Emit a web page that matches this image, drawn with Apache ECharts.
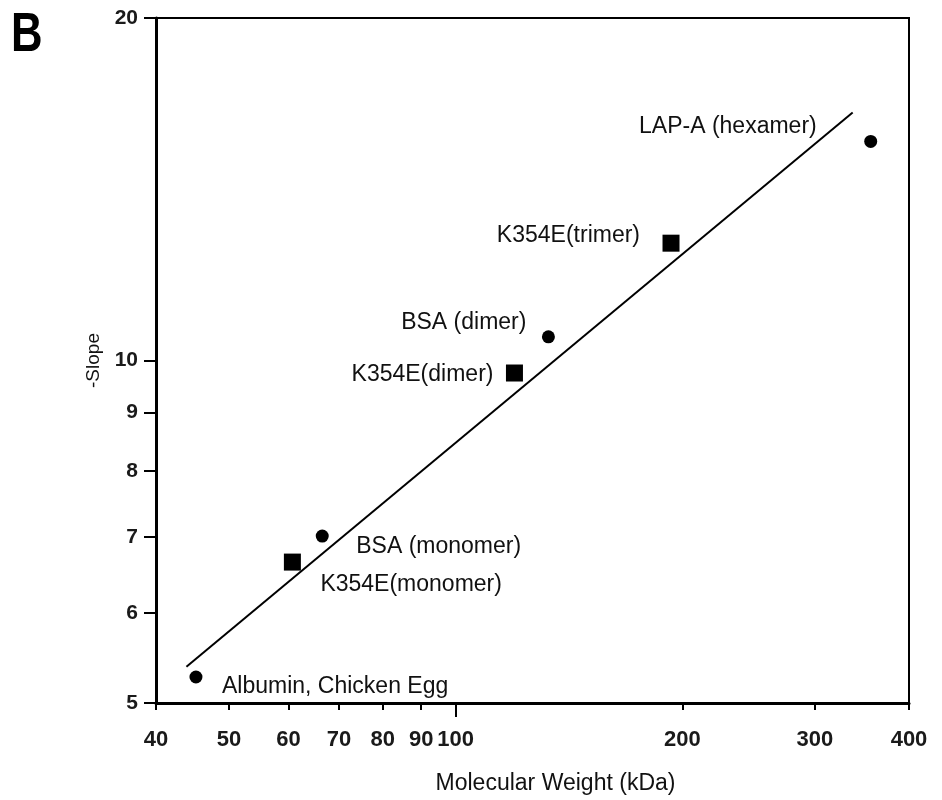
<!DOCTYPE html>
<html>
<head>
<meta charset="utf-8">
<script src="https://cdn.jsdelivr.net/npm/echarts@6/dist/echarts.min.js"></script>
<style>
  html, body { margin: 0; padding: 0; background: #fff; }
  #chart { width: 942px; height: 800px; }
</style>
</head>
<body>
<div id="chart"></div>
<script>
// molecular weight (kDa) vs -slope, log-log
var circleNames = ['Albumin, Chicken Egg', 'BSA (monomer)', 'BSA (dimer)', 'LAP-A (hexamer)']
var circleMW = [45.2, 66.5, 132.8, 355.8]
var circleSlope = [5.27, 7.01, 10.49, 15.58]

var squareNames = ['K354E(monomer)', 'K354E(dimer)', 'K354E(trimer)']
var squareMW = [60.7, 119.7, 193.2]
var squareSlope = [6.65, 9.75, 12.68]

// fitted line end points
var fitMW = [43.9, 336.7]
var fitSlope = [5.38, 16.52]

var xTicks = [40, 50, 60, 70, 80, 90, 100, 200, 300, 400]
var yTicks = [5, 6, 7, 8, 9, 10, 20]

// label placement per point (text anchor relative to marker centre)
var circleLabel = [
  { align: 'left', offset: [26, 10] },
  { align: 'left', offset: [34, 11] },
  { align: 'right', offset: [-22, -14] },
  { align: 'right', offset: [-54, -15] }
]
var squareLabel = [
  { align: 'left', offset: [28, 23] },
  { align: 'right', offset: [-21, 2] },
  { align: 'right', offset: [-31, -8] }
]

function buildPoints(names, xs, ys, labels) {
  var out = []
  for (var i = 0; i < names.length; i++) {
    out.push({
      name: names[i],
      value: [xs[i], ys[i]],
      label: {
        show: true,
        position: 'inside',
        align: labels[i].align,
        verticalAlign: 'middle',
        offset: labels[i].offset,
        formatter: '{b}',
        color: '#111',
        fontSize: 23,
        fontFamily: 'Liberation Sans, Arial, sans-serif'
      }
    })
  }
  return out
}

var fitData = []
for (var i = 0; i < fitMW.length; i++) fitData.push([fitMW[i], fitSlope[i]])

var tickFont = {
  color: '#1a1a1a',
  fontWeight: 'bold',
  fontFamily: 'Liberation Sans, Arial, sans-serif'
}

var chart = echarts.init(document.getElementById('chart'))
chart.setOption({
  animation: false,
  backgroundColor: '#fff',
  grid: {
    left: 156,
    right: 33,
    top: 18,
    bottom: 94,
    show: true,
    borderColor: '#000',
    borderWidth: 2,
    backgroundColor: 'transparent'
  },
  graphic: [{
    type: 'text',
    left: 11,
    top: 8,
    scaleX: 0.78,
    style: {
      text: 'B',
      fontSize: 56,
      fontWeight: 'bold',
      fontFamily: 'Liberation Sans, Arial, sans-serif',
      fill: '#000'
    }
  }],
  xAxis: [{
    type: 'log',
    logBase: 10,
    min: 40,
    max: 400,
    name: 'Molecular Weight (kDa)',
    nameLocation: 'middle',
    nameGap: 69,
    nameTextStyle: {
      color: '#111',
      fontSize: 23,
      padding: [0, 0, 0, 46],
      fontFamily: 'Liberation Sans, Arial, sans-serif'
    },
    axisLine: { show: true, lineStyle: { color: '#000', width: 3 } },
    axisTick: { show: true, length: 7, lineStyle: { color: '#000', width: 2 }, customValues: xTicks },
    axisLabel: Object.assign({ fontSize: 22, margin: 26, customValues: xTicks }, tickFont),
    minorTick: { show: false },
    splitLine: { show: false }
  }, {
    // longer tick at 100
    type: 'log',
    logBase: 10,
    min: 40,
    max: 400,
    position: 'bottom',
    offset: 0,
    axisLine: { show: false },
    axisTick: { show: true, length: 14, lineStyle: { color: '#000', width: 2 }, customValues: [100] },
    axisLabel: { show: false },
    splitLine: { show: false }
  }],
  yAxis: {
    type: 'log',
    logBase: 10,
    min: 5,
    max: 20,
    name: '-Slope',
    nameLocation: 'middle',
    nameGap: 52,
    nameRotate: 90,
    nameTextStyle: {
      color: '#111',
      fontSize: 19,
      fontFamily: 'Liberation Sans, Arial, sans-serif'
    },
    axisLine: { show: true, lineStyle: { color: '#000', width: 3 } },
    axisTick: { show: true, length: 12, lineStyle: { color: '#000', width: 2 }, customValues: yTicks },
    axisLabel: Object.assign({ fontSize: 21, margin: 18, customValues: yTicks }, tickFont),
    splitLine: { show: false }
  },
  series: [{
    name: 'fit',
    type: 'line',
    data: fitData,
    symbol: 'none',
    lineStyle: { color: '#000', width: 2 },
    z: 1
  }, {
    name: 'standards',
    type: 'scatter',
    symbol: 'circle',
    symbolSize: 13,
    itemStyle: { color: '#000', opacity: 1 },
    data: buildPoints(circleNames, circleMW, circleSlope, circleLabel),
    z: 3
  }, {
    name: 'K354E',
    type: 'scatter',
    symbol: 'rect',
    symbolSize: 17,
    itemStyle: { color: '#000', opacity: 1 },
    data: buildPoints(squareNames, squareMW, squareSlope, squareLabel),
    z: 3
  }]
})
</script>
</body>
</html>
